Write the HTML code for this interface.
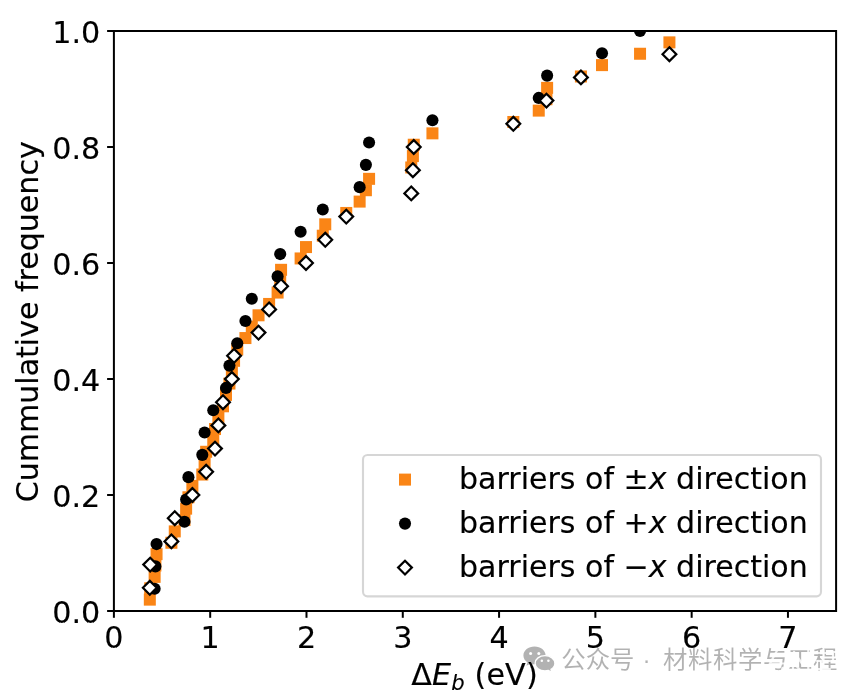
<!DOCTYPE html>
<html lang="en"><head><meta charset="utf-8"><title>Cumulative frequency of barriers</title>
<style>
html,body{margin:0;padding:0;background:#fff;}
body{width:864px;height:694px;overflow:hidden;position:relative;}
svg{position:absolute;left:0;top:0;display:block;}
text{font-family:"DejaVu Sans","Liberation Sans",sans-serif;fill:#000;stroke:#000;stroke-width:0.16px;}
.it{font-style:italic;}
.wm{font-family:"Liberation Sans","Noto Sans CJK SC",sans-serif;fill:#000;fill-opacity:0.3;stroke:none;}
</style></head><body>
<svg width="864" height="694" viewBox="0 0 864 694">
<rect x="0" y="0" width="864" height="694" fill="#fff"/>
<defs><clipPath id="ax"><rect x="113.90" y="31.00" width="722.20" height="580.00"/></clipPath></defs>

<g clip-path="url(#ax)">
<rect x="143.82" y="593.63" width="12.00" height="12.00" fill="#fa8516"/>
<rect x="144.20" y="582.25" width="12.00" height="12.00" fill="#fa8516"/>
<rect x="148.63" y="570.88" width="12.00" height="12.00" fill="#fa8516"/>
<rect x="149.40" y="559.51" width="12.00" height="12.00" fill="#fa8516"/>
<rect x="150.56" y="548.14" width="12.00" height="12.00" fill="#fa8516"/>
<rect x="165.39" y="536.76" width="12.00" height="12.00" fill="#fa8516"/>
<rect x="168.76" y="525.39" width="12.00" height="12.00" fill="#fa8516"/>
<rect x="178.48" y="514.02" width="12.00" height="12.00" fill="#fa8516"/>
<rect x="180.12" y="502.65" width="12.00" height="12.00" fill="#fa8516"/>
<rect x="182.43" y="491.27" width="12.00" height="12.00" fill="#fa8516"/>
<rect x="186.38" y="479.90" width="12.00" height="12.00" fill="#fa8516"/>
<rect x="196.30" y="468.53" width="12.00" height="12.00" fill="#fa8516"/>
<rect x="198.61" y="457.16" width="12.00" height="12.00" fill="#fa8516"/>
<rect x="200.15" y="445.78" width="12.00" height="12.00" fill="#fa8516"/>
<rect x="207.27" y="434.41" width="12.00" height="12.00" fill="#fa8516"/>
<rect x="209.01" y="423.04" width="12.00" height="12.00" fill="#fa8516"/>
<rect x="212.38" y="411.67" width="12.00" height="12.00" fill="#fa8516"/>
<rect x="217.00" y="400.29" width="12.00" height="12.00" fill="#fa8516"/>
<rect x="219.99" y="388.92" width="12.00" height="12.00" fill="#fa8516"/>
<rect x="223.45" y="377.55" width="12.00" height="12.00" fill="#fa8516"/>
<rect x="225.86" y="366.18" width="12.00" height="12.00" fill="#fa8516"/>
<rect x="228.07" y="354.80" width="12.00" height="12.00" fill="#fa8516"/>
<rect x="231.25" y="343.43" width="12.00" height="12.00" fill="#fa8516"/>
<rect x="239.44" y="332.06" width="12.00" height="12.00" fill="#fa8516"/>
<rect x="245.79" y="320.69" width="12.00" height="12.00" fill="#fa8516"/>
<rect x="252.53" y="309.31" width="12.00" height="12.00" fill="#fa8516"/>
<rect x="263.12" y="297.94" width="12.00" height="12.00" fill="#fa8516"/>
<rect x="271.60" y="286.57" width="12.00" height="12.00" fill="#fa8516"/>
<rect x="274.20" y="275.20" width="12.00" height="12.00" fill="#fa8516"/>
<rect x="275.07" y="263.82" width="12.00" height="12.00" fill="#fa8516"/>
<rect x="294.61" y="252.45" width="12.00" height="12.00" fill="#fa8516"/>
<rect x="300.01" y="241.08" width="12.00" height="12.00" fill="#fa8516"/>
<rect x="316.76" y="229.71" width="12.00" height="12.00" fill="#fa8516"/>
<rect x="319.26" y="218.33" width="12.00" height="12.00" fill="#fa8516"/>
<rect x="340.26" y="206.96" width="12.00" height="12.00" fill="#fa8516"/>
<rect x="353.64" y="195.59" width="12.00" height="12.00" fill="#fa8516"/>
<rect x="359.90" y="184.22" width="12.00" height="12.00" fill="#fa8516"/>
<rect x="363.08" y="172.84" width="12.00" height="12.00" fill="#fa8516"/>
<rect x="405.25" y="161.47" width="12.00" height="12.00" fill="#fa8516"/>
<rect x="406.89" y="150.10" width="12.00" height="12.00" fill="#fa8516"/>
<rect x="407.76" y="138.73" width="12.00" height="12.00" fill="#fa8516"/>
<rect x="426.44" y="127.35" width="12.00" height="12.00" fill="#fa8516"/>
<rect x="507.32" y="115.98" width="12.00" height="12.00" fill="#fa8516"/>
<rect x="532.75" y="104.61" width="12.00" height="12.00" fill="#fa8516"/>
<rect x="540.45" y="93.24" width="12.00" height="12.00" fill="#fa8516"/>
<rect x="541.12" y="81.86" width="12.00" height="12.00" fill="#fa8516"/>
<rect x="574.92" y="70.49" width="12.00" height="12.00" fill="#fa8516"/>
<rect x="596.01" y="59.12" width="12.00" height="12.00" fill="#fa8516"/>
<rect x="634.05" y="47.75" width="12.00" height="12.00" fill="#fa8516"/>
<rect x="663.42" y="36.37" width="12.00" height="12.00" fill="#fa8516"/>
<rect x="974.54" y="25.00" width="12.00" height="12.00" fill="#fa8516"/>
<circle cx="154.63" cy="588.69" r="6.05" fill="#000"/>
<circle cx="155.40" cy="566.38" r="6.05" fill="#000"/>
<circle cx="156.56" cy="544.08" r="6.05" fill="#000"/>
<circle cx="184.48" cy="521.77" r="6.05" fill="#000"/>
<circle cx="186.12" cy="499.46" r="6.05" fill="#000"/>
<circle cx="188.43" cy="477.15" r="6.05" fill="#000"/>
<circle cx="202.30" cy="454.85" r="6.05" fill="#000"/>
<circle cx="204.61" cy="432.54" r="6.05" fill="#000"/>
<circle cx="213.27" cy="410.23" r="6.05" fill="#000"/>
<circle cx="225.99" cy="387.92" r="6.05" fill="#000"/>
<circle cx="229.45" cy="365.62" r="6.05" fill="#000"/>
<circle cx="237.25" cy="343.31" r="6.05" fill="#000"/>
<circle cx="245.44" cy="321.00" r="6.05" fill="#000"/>
<circle cx="251.79" cy="298.69" r="6.05" fill="#000"/>
<circle cx="277.60" cy="276.38" r="6.05" fill="#000"/>
<circle cx="280.20" cy="254.08" r="6.05" fill="#000"/>
<circle cx="300.61" cy="231.77" r="6.05" fill="#000"/>
<circle cx="322.76" cy="209.46" r="6.05" fill="#000"/>
<circle cx="359.64" cy="187.15" r="6.05" fill="#000"/>
<circle cx="365.90" cy="164.85" r="6.05" fill="#000"/>
<circle cx="369.08" cy="142.54" r="6.05" fill="#000"/>
<circle cx="432.44" cy="120.23" r="6.05" fill="#000"/>
<circle cx="538.75" cy="97.92" r="6.05" fill="#000"/>
<circle cx="547.12" cy="75.62" r="6.05" fill="#000"/>
<circle cx="602.01" cy="53.31" r="6.05" fill="#000"/>
<circle cx="640.05" cy="31.00" r="6.05" fill="#000"/>
<path d="M149.82 580.90L156.72 587.80L149.82 594.70L142.92 587.80Z" fill="#fff" stroke="#000" stroke-width="2.2"/>
<path d="M150.20 557.70L157.10 564.60L150.20 571.50L143.30 564.60Z" fill="#fff" stroke="#000" stroke-width="2.2"/>
<path d="M171.39 534.50L178.29 541.40L171.39 548.30L164.49 541.40Z" fill="#fff" stroke="#000" stroke-width="2.2"/>
<path d="M174.76 511.30L181.66 518.20L174.76 525.10L167.86 518.20Z" fill="#fff" stroke="#000" stroke-width="2.2"/>
<path d="M192.38 488.10L199.28 495.00L192.38 501.90L185.48 495.00Z" fill="#fff" stroke="#000" stroke-width="2.2"/>
<path d="M206.15 464.90L213.05 471.80L206.15 478.70L199.25 471.80Z" fill="#fff" stroke="#000" stroke-width="2.2"/>
<path d="M215.01 441.70L221.91 448.60L215.01 455.50L208.11 448.60Z" fill="#fff" stroke="#000" stroke-width="2.2"/>
<path d="M218.38 418.50L225.28 425.40L218.38 432.30L211.48 425.40Z" fill="#fff" stroke="#000" stroke-width="2.2"/>
<path d="M223.00 395.30L229.90 402.20L223.00 409.10L216.10 402.20Z" fill="#fff" stroke="#000" stroke-width="2.2"/>
<path d="M231.86 372.10L238.76 379.00L231.86 385.90L224.96 379.00Z" fill="#fff" stroke="#000" stroke-width="2.2"/>
<path d="M234.07 348.90L240.97 355.80L234.07 362.70L227.17 355.80Z" fill="#fff" stroke="#000" stroke-width="2.2"/>
<path d="M258.53 325.70L265.43 332.60L258.53 339.50L251.63 332.60Z" fill="#fff" stroke="#000" stroke-width="2.2"/>
<path d="M269.12 302.50L276.02 309.40L269.12 316.30L262.22 309.40Z" fill="#fff" stroke="#000" stroke-width="2.2"/>
<path d="M281.07 279.30L287.97 286.20L281.07 293.10L274.17 286.20Z" fill="#fff" stroke="#000" stroke-width="2.2"/>
<path d="M306.01 256.10L312.91 263.00L306.01 269.90L299.11 263.00Z" fill="#fff" stroke="#000" stroke-width="2.2"/>
<path d="M325.26 232.90L332.16 239.80L325.26 246.70L318.36 239.80Z" fill="#fff" stroke="#000" stroke-width="2.2"/>
<path d="M346.26 209.70L353.16 216.60L346.26 223.50L339.36 216.60Z" fill="#fff" stroke="#000" stroke-width="2.2"/>
<path d="M411.25 186.50L418.15 193.40L411.25 200.30L404.35 193.40Z" fill="#fff" stroke="#000" stroke-width="2.2"/>
<path d="M412.89 163.30L419.79 170.20L412.89 177.10L405.99 170.20Z" fill="#fff" stroke="#000" stroke-width="2.2"/>
<path d="M413.76 140.10L420.66 147.00L413.76 153.90L406.86 147.00Z" fill="#fff" stroke="#000" stroke-width="2.2"/>
<path d="M513.32 116.90L520.22 123.80L513.32 130.70L506.42 123.80Z" fill="#fff" stroke="#000" stroke-width="2.2"/>
<path d="M546.45 93.70L553.35 100.60L546.45 107.50L539.55 100.60Z" fill="#fff" stroke="#000" stroke-width="2.2"/>
<path d="M580.92 70.50L587.82 77.40L580.92 84.30L574.02 77.40Z" fill="#fff" stroke="#000" stroke-width="2.2"/>
<path d="M669.42 47.30L676.32 54.20L669.42 61.10L662.52 54.20Z" fill="#fff" stroke="#000" stroke-width="2.2"/>
<path d="M980.54 24.10L987.44 31.00L980.54 37.90L973.64 31.00Z" fill="#fff" stroke="#000" stroke-width="2.2"/>
</g>
<rect x="113.90" y="31.00" width="722.20" height="580.00" fill="none" stroke="#000" stroke-width="2"/>
<line x1="113.90" y1="611.00" x2="113.90" y2="617.80" stroke="#000" stroke-width="2"/>
<text transform="translate(113.90 648.20) scale(1 1.005)" font-size="30.20" text-anchor="middle">0</text>
<line x1="210.19" y1="611.00" x2="210.19" y2="617.80" stroke="#000" stroke-width="2"/>
<text transform="translate(210.19 648.20) scale(1 1.005)" font-size="30.20" text-anchor="middle">1</text>
<line x1="306.49" y1="611.00" x2="306.49" y2="617.80" stroke="#000" stroke-width="2"/>
<text transform="translate(306.49 648.20) scale(1 1.005)" font-size="30.20" text-anchor="middle">2</text>
<line x1="402.78" y1="611.00" x2="402.78" y2="617.80" stroke="#000" stroke-width="2"/>
<text transform="translate(402.78 648.20) scale(1 1.005)" font-size="30.20" text-anchor="middle">3</text>
<line x1="499.07" y1="611.00" x2="499.07" y2="617.80" stroke="#000" stroke-width="2"/>
<text transform="translate(499.07 648.20) scale(1 1.005)" font-size="30.20" text-anchor="middle">4</text>
<line x1="595.37" y1="611.00" x2="595.37" y2="617.80" stroke="#000" stroke-width="2"/>
<text transform="translate(595.37 648.20) scale(1 1.005)" font-size="30.20" text-anchor="middle">5</text>
<line x1="691.66" y1="611.00" x2="691.66" y2="617.80" stroke="#000" stroke-width="2"/>
<text transform="translate(691.66 648.20) scale(1 1.005)" font-size="30.20" text-anchor="middle">6</text>
<line x1="787.95" y1="611.00" x2="787.95" y2="617.80" stroke="#000" stroke-width="2"/>
<text transform="translate(787.95 648.20) scale(1 1.005)" font-size="30.20" text-anchor="middle">7</text>
<line x1="107.10" y1="611.00" x2="113.90" y2="611.00" stroke="#000" stroke-width="2"/>
<text transform="translate(100.30 622.60) scale(1 1.02)" font-size="30.20" text-anchor="end">0.0</text>
<line x1="107.10" y1="495.00" x2="113.90" y2="495.00" stroke="#000" stroke-width="2"/>
<text transform="translate(100.30 506.60) scale(1 1.02)" font-size="30.20" text-anchor="end">0.2</text>
<line x1="107.10" y1="379.00" x2="113.90" y2="379.00" stroke="#000" stroke-width="2"/>
<text transform="translate(100.30 390.60) scale(1 1.02)" font-size="30.20" text-anchor="end">0.4</text>
<line x1="107.10" y1="263.00" x2="113.90" y2="263.00" stroke="#000" stroke-width="2"/>
<text transform="translate(100.30 274.60) scale(1 1.02)" font-size="30.20" text-anchor="end">0.6</text>
<line x1="107.10" y1="147.00" x2="113.90" y2="147.00" stroke="#000" stroke-width="2"/>
<text transform="translate(100.30 158.60) scale(1 1.02)" font-size="30.20" text-anchor="end">0.8</text>
<line x1="107.10" y1="31.00" x2="113.90" y2="31.00" stroke="#000" stroke-width="2"/>
<text transform="translate(100.30 42.60) scale(1 1.02)" font-size="30.20" text-anchor="end">1.0</text>
<text x="411.3" y="685.2" font-size="30.20" letter-spacing="0.12">Δ<tspan class="it">E</tspan><tspan class="it" font-size="21.14" dy="4.4">b</tspan><tspan dy="-4.4"> (eV)</tspan></text>
<text transform="translate(37.5 321.80) rotate(-90)" font-size="30.05" text-anchor="middle">Cummulative frequency</text>
<rect x="363.00" y="455.00" width="458.00" height="141.35" rx="4.5" ry="4.5" fill="#fff" fill-opacity="0.8" stroke="#cccccc" stroke-opacity="0.8" stroke-width="2.1"/>
<rect x="399.00" y="473.60" width="12.00" height="12.00" fill="#fa8516"/>
<circle cx="405.00" cy="523.60" r="6.05" fill="#000"/>
<path d="M405.00 560.70L411.90 567.60L405.00 574.50L398.10 567.60Z" fill="#fff" stroke="#000" stroke-width="2.2"/>
<text x="459.0" y="488.60" font-size="30.05">barriers of ±<tspan class="it">x</tspan> direction</text>
<text x="459.0" y="532.60" font-size="30.05">barriers of +<tspan class="it">x</tspan> direction</text>
<text x="459.0" y="576.60" font-size="30.05">barriers of −<tspan class="it">x</tspan> direction</text>
<g fill="#000" fill-opacity="0.3">
<path d="M534.5 646.6c-6.2 0-11.1 4-11.1 8.9 0 2.8 1.6 5.3 4.1 6.9l-1.1 3.4 3.9-2.1c1.3.4 2.7.6 4.2.6 6.2 0 11.1-3.9 11.1-8.8s-4.900-8.900-11.100-8.900z"/>
</g>
<path d="M545 655.6c-5.500 0-9.900 3.500-9.900 7.700s4.400 7.700 9.900 7.700c1.200 0 2.300-.2 3.400-.5l3.500 1.900-.9-3c2.400-1.400 3.900-3.600 3.900-6.100 0-4.200-4.400-7.700-9.900-7.700z" fill="#b2b2b2" stroke="#fff" stroke-width="1.3"/>
<g fill="#fff"><circle cx="530.6" cy="653.4" r="1.5"/><circle cx="538.8" cy="653.4" r="1.5"/><circle cx="541.8" cy="660.8" r="1.25"/><circle cx="548.4" cy="660.8" r="1.25"/></g>
<g class="wm" font-size="24.4">
<text class="wm" x="561.3" y="668.0">公众号</text>
<text class="wm" x="646.5" y="668.0" text-anchor="middle">·</text>
<text class="wm" x="663.0" y="668.0" textLength="174.5">材料科学与工程</text>
</g>
<g stroke="#fff" stroke-opacity="0.85" stroke-width="2.2" fill="none" stroke-linecap="round">
<path d="M779 647L762.500 677M770 663.500h14M774 668l-5 10M782.500 668l-3 10"/>
<path d="M794 652l-8.500 13M794 652l9 13M786 670l7-8 7 8M793 662v17"/>
<path d="M808.300 647v33M846.500 647v33"/>
<path d="M817 653h13M817 661h13M817 669h13M823.500 650v29M833 652h11v9h-11zM833 667h11M833 673h11M838.500 661v17"/>
</g>
</svg></body></html>
